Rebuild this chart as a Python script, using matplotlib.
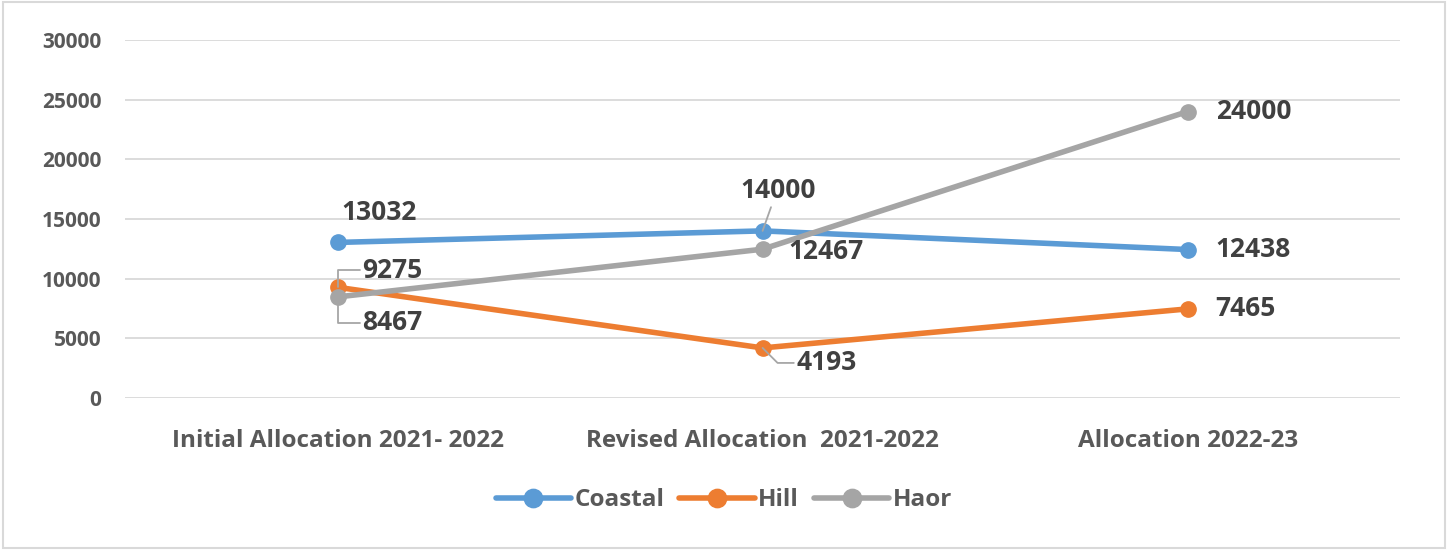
import matplotlib.pyplot as plt

categories = ['Initial Allocation 2021- 2022', 'Revised Allocation  2021-2022', 'Allocation 2022-23']
coastal = [13032, 14000, 12438]
hill = [9275, 4193, 7465]
haor = [8467, 12467, 24000]

plt.rcParams['font.family'] = ['Open Sans', 'DejaVu Sans']
txt_col = '#595959'

fig = plt.figure(figsize=(14.48, 5.5), dpi=100)
ax = fig.add_axes([0.0863, 0.2764, 0.8807, 0.651])

x = list(range(len(categories)))
series = [('Coastal', coastal, '#5B9BD5'), ('Hill', hill, '#ED7D31'), ('Haor', haor, '#A5A5A5')]
for name, vals, col in series:
    ax.plot(x, vals, color=col, lw=4, marker='o', ms=11, label=name, solid_capstyle='round')

ax.set_xlim(-0.5, 2.5)
ax.set_ylim(0, 30000)
ax.set_yticks(range(0, 30001, 5000))
ax.set_xticks(x)
ax.set_xticklabels(categories)
ax.grid(axis='y', color='#d9d9d9', lw=1.3)
ax.set_axisbelow(True)
for s in ax.spines.values():
    s.set_visible(False)
ax.tick_params(length=0, colors=txt_col)
ax.tick_params(axis='y', pad=17, labelsize=15)
ax.tick_params(axis='x', pad=22, labelsize=17.5)
for lab in ax.get_xticklabels() + ax.get_yticklabels():
    lab.set_fontweight('bold')

lbl = dict(fontsize=19, fontweight='bold', color='#404040', textcoords='offset pixels', va='center')
leader = dict(arrowstyle='-', color='#a6a6a6', lw=1.3, shrinkA=0, shrinkB=0)

# data labels
ax.annotate(str(coastal[0]), (0, coastal[0]), xytext=(42, 30), ha='center', **lbl)
ax.annotate(str(coastal[1]), (1, coastal[1]), xytext=(16, 40), ha='center',
            arrowprops=dict(leader, relpos=(0.4, -0.1)), **lbl)
ax.annotate(str(coastal[2]), (2, coastal[2]), xytext=(28, 0), ha='left', **lbl)
ax.annotate(str(hill[0]), (0, hill[0]), xytext=(25, 17), ha='left',
            arrowprops=dict(leader, relpos=(0, 0.5), connectionstyle='angle,angleA=0,angleB=90,rad=0'), **lbl)
ax.annotate(str(hill[1]), (1, hill[1]), xytext=(34, -15), ha='left',
            arrowprops=dict(leader, relpos=(0, 0.5), connectionstyle='angle,angleA=180,angleB=-45,rad=0'), **lbl)
ax.annotate(str(hill[2]), (2, hill[2]), xytext=(28, 0), ha='left', **lbl)
ax.annotate(str(haor[0]), (0, haor[0]), xytext=(25, -26), ha='left',
            arrowprops=dict(leader, relpos=(0, 0.5), connectionstyle='angle,angleA=0,angleB=90,rad=0'), **lbl)
ax.annotate(str(haor[1]), (1, haor[1]), xytext=(26, -2), ha='left', **lbl)
ax.annotate(str(haor[2]), (2, haor[2]), xytext=(28, 0), ha='left', **lbl)

leg = fig.legend(*ax.get_legend_handles_labels(), loc='center', bbox_to_anchor=(0.5, 0.09),
                 ncol=3, frameon=False, handlelength=3.1, columnspacing=0.6, handletextpad=0.15,
                 markerscale=1.2, prop={'size': 17.5, 'weight': 'bold'})
for t in leg.get_texts():
    t.set_color(txt_col)

fig.patches.append(plt.Rectangle((0.002, 0.003), 0.996, 0.994, transform=fig.transFigure,
                                 fill=False, edgecolor='#d9d9d9', lw=1.5))

fig.savefig('out.png', dpi=100, facecolor='white')
